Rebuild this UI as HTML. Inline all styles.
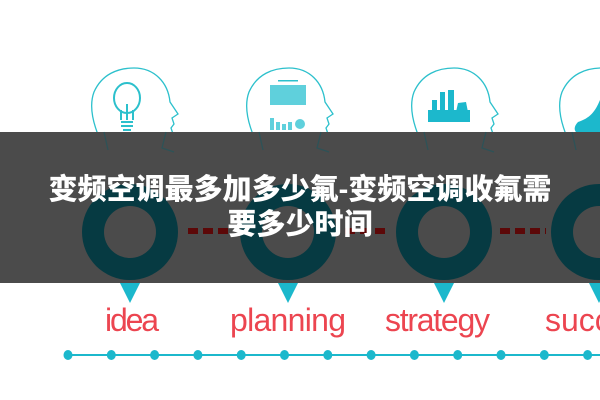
<!DOCTYPE html>
<html><head><meta charset="utf-8"><style>
html,body{margin:0;padding:0;background:#fff;}
#w{position:relative;width:600px;height:400px;overflow:hidden;background:#fff;}
svg{position:absolute;left:0;top:0;}
.t{position:absolute;left:0;width:600px;text-align:center;color:#fff;font-family:"Liberation Sans","Noto Sans CJK SC",sans-serif;font-weight:900;font-size:29px;line-height:36px;white-space:nowrap;}
</style></head><body><div id="w">
<svg width="600" height="400" viewBox="0 0 600 400">
<defs>
<g id="head"><path d="M14 80 C4 60,-2 40,4 24 C12 6,28 0,44 0 C64 0,78 14,80 34 L88 46 L82 50 L84 56 L81 60 L83 66 L76 70 L76 80" fill="none" stroke="#2cc0cc" stroke-width="1.3"/></g>
</defs>
<use href="#head" x="90" y="68"/>
<use href="#head" x="245" y="68"/>
<use href="#head" x="410" y="68"/>
<use href="#head" x="558" y="68"/>
<g fill="none" stroke="#2cc0cc" stroke-width="2"><ellipse cx="127" cy="98" rx="13" ry="15"/><path d="M121 110 L121 120 M133 110 L133 120 M127 104 L127 120"/></g>
<rect x="121" y="121" width="12" height="2" fill="#2cc0cc"/><rect x="121" y="125" width="12" height="2" fill="#2cc0cc"/><rect x="123" y="129" width="8" height="2" fill="#2cc0cc"/>
<g fill="#5fd0dc"><rect x="270" y="85" width="36" height="20"/><rect x="270" y="118" width="4" height="12"/><rect x="276" y="122" width="4" height="8"/><rect x="282" y="124" width="4" height="6"/><rect x="288" y="122" width="4" height="8"/><circle cx="300" cy="124" r="5"/><rect x="270" y="132" width="36" height="8"/></g>
<rect x="278" y="80" width="20" height="1.5" fill="#2cc0cc"/>
<g fill="#1cb8cc"><rect x="428" y="110" width="42" height="12"/><rect x="432" y="100" width="5" height="12"/><rect x="440" y="92" width="5" height="20"/><rect x="448" y="90" width="6" height="22"/><path d="M456 112 L458 103 L466 102 L468 112 Z"/></g>
<path d="M600 100 C595 112,590 118,578 122 C574 126,574 130,576 132 L600 132 Z" fill="#1cb8cc"/>
<rect x="0" y="132" width="600" height="151" fill="#4b4b4b"/>
<g opacity="0.55" fill="none" stroke="#155a62" stroke-width="1.3">
<path d="M104 132 L108 150 M166 132 L162 148 L174 152" /><path d="M259 132 L263 150 M321 132 L317 148 L329 152"/><path d="M424 132 L428 150 M486 132 L482 148 L494 152"/><path d="M572 132 L576 150"/>
</g>
<g fill="#063a42">
<circle cx="130" cy="232" r="48"/><circle cx="288" cy="232" r="48"/><circle cx="444" cy="232" r="48"/><circle cx="599" cy="232" r="48"/>
</g>
<g fill="#4b4b4b"><circle cx="130" cy="232" r="26"/><circle cx="288" cy="232" r="26"/><circle cx="444" cy="232" r="26"/><circle cx="599" cy="232" r="26"/></g>
<g stroke="#5c0808" stroke-width="6" stroke-dasharray="10,5"><line x1="188" y1="231" x2="232" y2="231"/><line x1="345" y1="231" x2="390" y2="231"/><line x1="500" y1="231" x2="546" y2="231"/></g>
<g fill="#1cb8cc"><path d="M120 283 L130 303 L140 283 Z"/><path d="M278 283 L288 303 L298 283 Z"/><path d="M434 283 L444 303 L454 283 Z"/><path d="M589 283 L599 303 L609 283 Z"/></g>
<g font-family="Liberation Sans, sans-serif" font-size="32" fill="#ec4550">
<text x="105" y="331" textLength="54">idea</text>
<text x="230" y="331" textLength="116">planning</text>
<text x="385" y="331" textLength="105">strategy</text>
<text x="545" y="331">succ</text>
</g>
<line x1="68" y1="355" x2="600" y2="355" stroke="#1cb8cc" stroke-width="2"/>
<g fill="#1cb8cc">
<ellipse cx="68" cy="355" rx="4.5" ry="5"/><ellipse cx="111.3" cy="355" rx="4.5" ry="5"/><ellipse cx="154.6" cy="355" rx="4.5" ry="5"/><ellipse cx="197.9" cy="355" rx="4.5" ry="5"/><ellipse cx="241.2" cy="355" rx="4.5" ry="5"/><ellipse cx="284.5" cy="355" rx="4.5" ry="5"/><ellipse cx="327.8" cy="355" rx="4.5" ry="5"/><ellipse cx="371.1" cy="355" rx="4.5" ry="5"/><ellipse cx="414.4" cy="355" rx="4.5" ry="5"/><ellipse cx="457.7" cy="355" rx="4.5" ry="5"/><ellipse cx="501" cy="355" rx="4.5" ry="5"/><ellipse cx="544.3" cy="355" rx="4.5" ry="5"/><ellipse cx="587.6" cy="355" rx="4.5" ry="5"/>
</g>
</svg>
<div class="t" style="top:172px;">变频空调最多加多少氟-变频空调收氟需</div>
<div class="t" style="top:207px;">要多少时间</div>
</div></body></html>
